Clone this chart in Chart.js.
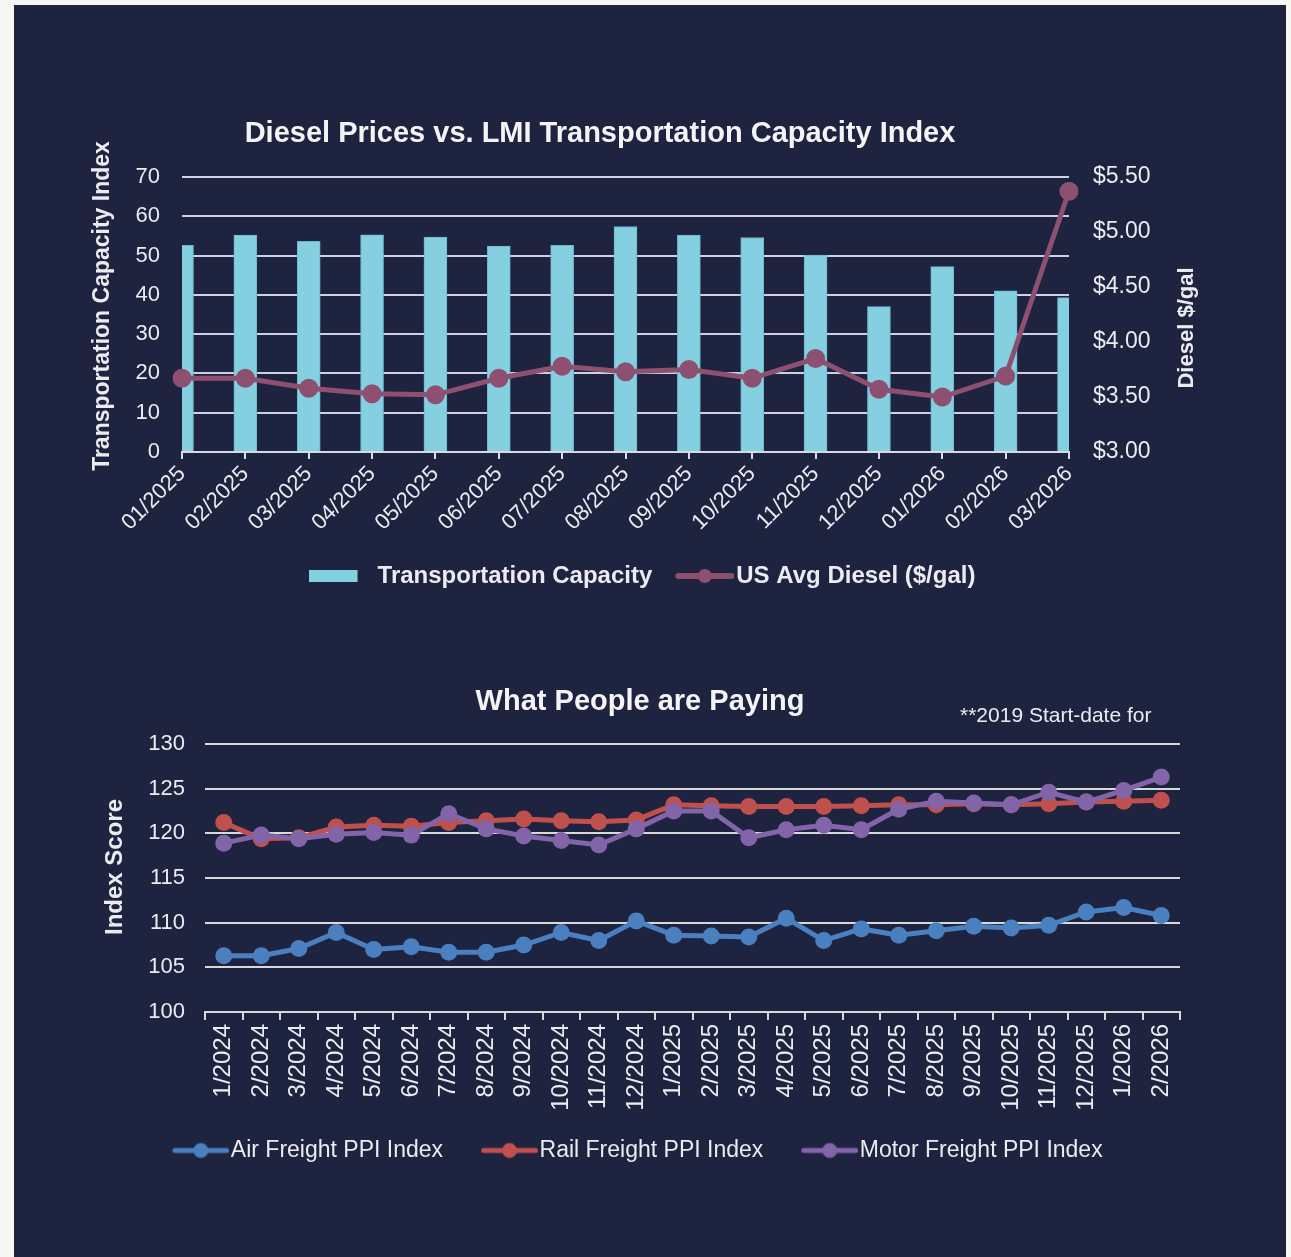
<!DOCTYPE html>
<html>
<head>
<meta charset="utf-8">
<script src="https://cdn.jsdelivr.net/npm/chart.js@4.4.1/dist/chart.umd.min.js"></script>
<style>
  body { margin: 0; background: #f8f6f2; width: 1291px; height: 1257px; overflow: hidden; }
  #panel { position: absolute; left: 14px; top: 5px; width: 1272px; height: 1252px; background: #1e2340; }
  canvas { position: absolute; }
  #capChart { left: 78px; top: 100px; }
  #ppiChart { left: 78px; top: 660px; }
</style>
</head>
<body>
<div id="panel"></div>
<canvas id="capChart" width="1130" height="510"></canvas>
<canvas id="ppiChart" width="1130" height="540"></canvas>
<script>
// top chart
const capMonths = ['01/2025', '02/2025', '03/2025', '04/2025', '05/2025', '06/2025', '07/2025', '08/2025',
  '09/2025', '10/2025', '11/2025', '12/2025', '01/2026', '02/2026', '03/2026'];
const capacity = [52.6, 55.2, 53.6, 55.3, 54.7, 52.4, 52.6, 57.4, 55.2, 54.6, 50.1, 37.0, 47.2, 41.0, 39.3];
const diesel = [3.67, 3.67, 3.58, 3.53, 3.52, 3.67, 3.78, 3.73, 3.75, 3.67, 3.85, 3.57, 3.50, 3.69, 5.37];

// bottom chart
const ppiMonths = ['1/2024', '2/2024', '3/2024', '4/2024', '5/2024', '6/2024', '7/2024', '8/2024', '9/2024',
  '10/2024', '11/2024', '12/2024', '1/2025', '2/2025', '3/2025', '4/2025', '5/2025', '6/2025', '7/2025',
  '8/2025', '9/2025', '10/2025', '11/2025', '12/2025', '1/2026', '2/2026'];
const airPPI = [106.3, 106.3, 107.1, 108.9, 107.0, 107.3, 106.7, 106.7, 107.5, 108.9, 108.0, 110.2, 108.6,
  108.5, 108.4, 110.5, 108.0, 109.3, 108.6, 109.1, 109.6, 109.4, 109.7, 111.2, 111.7, 110.8];
const railPPI = [121.2, 119.4, 119.5, 120.7, 120.9, 120.8, 121.2, 121.4, 121.6, 121.4, 121.3, 121.5, 123.2,
  123.1, 123.0, 123.0, 123.0, 123.1, 123.2, 123.2, 123.3, 123.2, 123.3, 123.5, 123.6, 123.7];
const motorPPI = [118.9, 119.8, 119.4, 119.9, 120.1, 119.8, 122.2, 120.5, 119.7, 119.2, 118.7, 120.5, 122.5,
  122.5, 119.5, 120.4, 120.9, 120.4, 122.7, 123.6, 123.4, 123.2, 124.6, 123.5, 124.8, 126.3];

const FONT = "'Liberation Sans', Arial, sans-serif";
const TEXT = '#ebebf0';
const TITLE = '#f4f4f6';
const BAR_COLOR = '#84cfe0';
const DIESEL_COLOR = '#8d5070';
const AIR_COLOR = '#4a7fc0';
const RAIL_COLOR = '#c0504d';
const MOTOR_COLOR = '#8264a8';

// legend swatches (small canvases used as point styles)
function barSwatch(color, w, x0, x1) {
  const c = document.createElement('canvas');
  c.width = w; c.height = 20;
  const g = c.getContext('2d');
  g.fillStyle = color;
  g.fillRect(x0, 4, x1 - x0, 12);
  return c;
}
function lineSwatch(color, w, x0, x1, lw, r) {
  const c = document.createElement('canvas');
  c.width = w; c.height = 20;
  const g = c.getContext('2d');
  g.strokeStyle = color; g.fillStyle = color;
  g.lineWidth = lw; g.lineCap = 'round';
  g.beginPath(); g.moveTo(x0 + lw / 2, 10); g.lineTo(x1 - lw / 2, 10); g.stroke();
  g.beginPath(); g.arc((x0 + x1) / 2, 10, r, 0, Math.PI * 2); g.fill();
  return c;
}

// free text (titles / notes) drawn on top of a chart
const extraText = {
  id: 'extraText',
  afterDraw(chart, args, opts) {
    const ctx = chart.ctx;
    (opts.items || []).forEach(t => {
      ctx.save();
      ctx.font = t.font;
      ctx.fillStyle = t.color || TEXT;
      ctx.textAlign = t.align || 'center';
      ctx.textBaseline = 'middle';
      ctx.translate(t.x, t.y);
      if (t.rotate) ctx.rotate(t.rotate);
      ctx.fillText(t.text, 0, 0);
      ctx.restore();
    });
  }
};

new Chart(document.getElementById('capChart'), {
  type: 'bar',
  plugins: [extraText],
  data: {
    labels: capMonths,
    datasets: [
      { type: 'bar', label: 'Transportation Capacity', data: capacity, yAxisID: 'y',
        backgroundColor: BAR_COLOR, borderColor: '#6fb6ca', borderWidth: 1, barThickness: 23, order: 1 },
      { type: 'line', label: 'US Avg Diesel ($/gal)', data: diesel, yAxisID: 'y1',
        borderColor: DIESEL_COLOR, backgroundColor: DIESEL_COLOR, borderWidth: 5,
        pointRadius: 9.5, pointBorderWidth: 0, pointBackgroundColor: DIESEL_COLOR, order: 0 }
    ]
  },
  options: {
    responsive: false,
    animation: false,
    layout: { padding: { top: 77, right: 0, bottom: 12, left: 0 } },
    scales: {
      x: {
        offset: false,
        grid: { offset: false, drawOnChartArea: false, drawTicks: true, tickLength: 7, color: '#d6d9e6', lineWidth: 2 },
        border: { display: true, color: '#d6d9e6', width: 2 },
        ticks: { color: TEXT, font: { family: FONT, size: 22 }, minRotation: 45, maxRotation: 45, autoSkip: false, padding: 2 },
        afterFit: s => { s.height = 95; }
      },
      y: {
        position: 'left', min: 0, max: 70,
        grid: { color: '#cdd1e4', lineWidth: 2, drawTicks: false },
        border: { display: false },
        ticks: { stepSize: 10, color: TEXT, font: { family: FONT, size: 22 }, padding: 22 },
        afterFit: s => { s.width = 104; }
      },
      y1: {
        position: 'right', min: 3, max: 5.5,
        grid: { display: false, drawOnChartArea: false, drawTicks: false },
        border: { display: false },
        ticks: { stepSize: 0.5, color: TEXT, font: { family: FONT, size: 23 }, padding: 24,
          callback: v => '$' + Number(v).toFixed(2) },
        afterFit: s => { s.width = 139; }
      }
    },
    plugins: {
      title: { display: false },
      tooltip: { enabled: false },
      legend: {
        position: 'bottom',
        labels: {
          usePointStyle: true, pointStyleWidth: 55, padding: 17,
          color: TEXT, font: { family: FONT, size: 24, weight: 'bold' },
          generateLabels: () => [
            { text: 'Transportation Capacity', pointStyle: barSwatch(BAR_COLOR, 59, 0, 49), fontColor: TEXT, lineWidth: 0, datasetIndex: 0 },
            { text: 'US Avg Diesel ($/gal)', pointStyle: lineSwatch(DIESEL_COLOR, 75, 16, 75, 6, 7), fontColor: TEXT, lineWidth: 0, datasetIndex: 1 }
          ]
        }
      },
      extraText: {
        items: [
          { text: 'Diesel Prices vs. LMI Transportation Capacity Index', x: 522, y: 34,
            font: 'bold 29px ' + FONT, color: TITLE },
          { text: 'Transportation Capacity Index', x: 25, y: 206, rotate: -Math.PI / 2,
            font: 'bold 23px ' + FONT, color: TEXT },
          { text: 'Diesel $/gal', x: 1109, y: 228, rotate: -Math.PI / 2,
            font: 'bold 22px ' + FONT, color: TEXT }
        ]
      }
    }
  }
});

function ppiLine(label, data, color, order) {
  return { label: label, data: data, borderColor: color, backgroundColor: color, borderWidth: 5,
    pointRadius: 8.5, pointBorderWidth: 0, pointBackgroundColor: color, order: order };
}

new Chart(document.getElementById('ppiChart'), {
  type: 'line',
  plugins: [extraText],
  data: {
    labels: ppiMonths,
    datasets: [
      ppiLine('Air Freight PPI Index', airPPI, AIR_COLOR, 2),
      ppiLine('Rail Freight PPI Index', railPPI, RAIL_COLOR, 1),
      ppiLine('Motor Freight PPI Index', motorPPI, MOTOR_COLOR, 0)
    ]
  },
  options: {
    responsive: false,
    animation: false,
    layout: { padding: { top: 84, right: 28, bottom: 28, left: 4 } },
    scales: {
      x: {
        offset: true,
        grid: { offset: true, drawOnChartArea: false, drawTicks: true, tickLength: 8, color: '#d9d9d9', lineWidth: 2 },
        border: { display: true, color: '#d9d9d9', width: 2 },
        ticks: { color: TEXT, font: { family: FONT, size: 24 }, minRotation: 90, maxRotation: 90, autoSkip: false, padding: 4 },
        afterFit: s => { s.height = 102; }
      },
      y: {
        min: 100, max: 130,
        grid: { color: '#d9d9d9', lineWidth: 2, drawTicks: false },
        border: { display: false },
        ticks: { stepSize: 5, color: TEXT, font: { family: FONT, size: 22 }, padding: 20 },
        afterFit: s => { s.width = 123; }
      }
    },
    plugins: {
      title: { display: false },
      tooltip: { enabled: false },
      legend: {
        position: 'bottom',
        labels: {
          usePointStyle: true, pointStyleWidth: 60, padding: 25,
          color: TEXT, font: { family: FONT, size: 23 },
          generateLabels: () => [
            { text: 'Air Freight PPI Index', pointStyle: lineSwatch(AIR_COLOR, 80, 23, 80, 5, 7.5), fontColor: TEXT, lineWidth: 0, datasetIndex: 0 },
            { text: 'Rail Freight PPI Index', pointStyle: lineSwatch(RAIL_COLOR, 80, 23, 80, 5, 7.5), fontColor: TEXT, lineWidth: 0, datasetIndex: 1 },
            { text: 'Motor Freight PPI Index', pointStyle: lineSwatch(MOTOR_COLOR, 80, 23, 80, 5, 7.5), fontColor: TEXT, lineWidth: 0, datasetIndex: 2 }
          ]
        }
      },
      extraText: {
        items: [
          { text: 'What People are Paying', x: 562, y: 42, font: 'bold 29px ' + FONT, color: TITLE },
          { text: 'Index Score', x: 37, y: 207, rotate: -Math.PI / 2, font: 'bold 24px ' + FONT, color: TEXT },
          { text: '**2019 Start-date for', x: 882, y: 56, align: 'left', font: '21px ' + FONT, color: TEXT }
        ]
      }
    }
  }
});
</script>
</body>
</html>
